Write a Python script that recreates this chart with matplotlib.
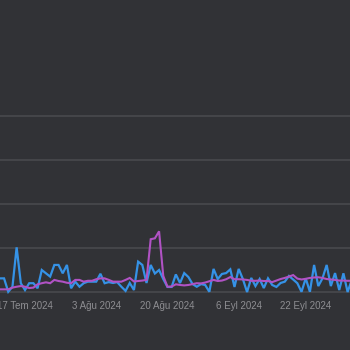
import matplotlib
matplotlib.use("Agg")
import matplotlib.pyplot as plt
import matplotlib.transforms as mtransforms
import numpy as np
import pandas as pd

# Daily series, 10 Jul 2024 .. 3 Oct 2024
start_date = "2024-07-10"
series_a = [
    6.2, 6.2, 6.2, 0.1, 2.4, 20.3, 4.0, 0.9, 4.0, 4.0,
    1.7, 10.0, 8.5, 7.0, 12.3, 12.3, 8.5, 12.3, 1.7, 4.7,
    2.4, 4.0, 4.7, 4.7, 4.7, 8.3, 4.0, 4.5, 4.1, 4.5,
    2.4, 0.5, 4.1, 0.9, 13.8, 12.3, 4.1, 12.3, 8.4, 10.0,
    5.9, 2.3, 2.3, 8.0, 4.1, 8.6, 6.8, 3.6, 2.4, 3.6,
    3.2, 0.1, 10.5, 5.9, 8.2, 8.6, 10.3, 2.3, 10.5, 5.9,
    0.0, 6.4, 2.7, 5.9, 1.8, 6.2, 3.2, 2.3, 4.1, 4.7,
    7.3, 5.7, 4.0, 0.1, 6.2, 0.1, 12.3, 2.7, 6.2, 12.3,
    2.7, 8.6, 0.9, 8.5, 0.0, 5.5,
]
series_b = [
    1.2, 1.2, 1.2, 1.2, 2.0, 2.4, 2.7, 2.4, 1.8, 2.0,
    3.5, 4.0, 4.4, 4.0, 5.5, 5.0, 4.7, 4.2, 4.0, 5.5,
    5.5, 4.7, 5.1, 5.1, 5.8, 6.2, 6.2, 5.5, 4.7, 4.7,
    4.7, 5.5, 6.4, 4.8, 5.0, 5.2, 5.5, 24.0, 24.4, 27.6,
    7.3, 2.4, 2.5, 3.5, 3.2, 3.0, 3.2, 3.6, 4.0, 3.9,
    4.3, 4.9, 5.5, 5.0, 5.2, 5.8, 6.8, 5.8, 5.8, 5.7,
    5.5, 5.1, 5.1, 5.2, 5.0, 5.0, 4.5, 5.2, 5.9, 6.4,
    7.0, 7.7, 6.1, 5.7, 6.0, 6.4, 6.6, 6.7, 6.4, 5.9,
    5.7, 5.5, 5.2, 5.2, 5.1, 5.1,
]
grid_values = [0, 20, 40, 60, 80]
tick_dates = ["2024-07-17", "2024-08-03", "2024-08-20", "2024-09-06", "2024-09-22"]
month_names_tr = ["Oca", "Şub", "Mar", "Nis", "May", "Haz",
                  "Tem", "Ağu", "Eyl", "Eki", "Kas", "Ara"]

dates = pd.date_range(start_date, periods=len(series_a), freq="D")
ticks = pd.to_datetime(tick_dates)
tick_labels = [f"{t.day} {month_names_tr[t.month - 1]} {t.year}" for t in ticks]

bg = "#313236"
fig = plt.figure(figsize=(3.5, 3.5), dpi=100, facecolor=bg)
ax = fig.add_axes([0, 0, 1, 1], facecolor=bg)

for g in grid_values:
    ax.axhline(g, color="#4a4b4f", lw=1.1, zorder=1)

ax.plot(dates, series_a, color="#3592e6", lw=1.6, zorder=3,
        solid_joinstyle="miter")
ax.plot(dates, series_b, color="#b052c4", lw=1.5, zorder=4,
        solid_joinstyle="miter")

ax.set_xlim(pd.Timestamp("2024-07-17") - pd.Timedelta(days=5.97),
            pd.Timestamp("2024-07-17") + pd.Timedelta(days=77.57))
ax.set_ylim(-26.36, 132.73)

trans = mtransforms.blended_transform_factory(ax.transData, ax.transAxes)
for t, lab in zip(ticks, tick_labels):
    ax.text(t, 0.125, lab, transform=trans, ha="center", va="center",
            fontsize=7.0, color="#8e8e92", family=["Liberation Sans", "DejaVu Sans"])

ax.set_xticks([])
ax.set_yticks([])
for s in ax.spines.values():
    s.set_visible(False)

fig.savefig("out.png", dpi=100, facecolor=bg)
